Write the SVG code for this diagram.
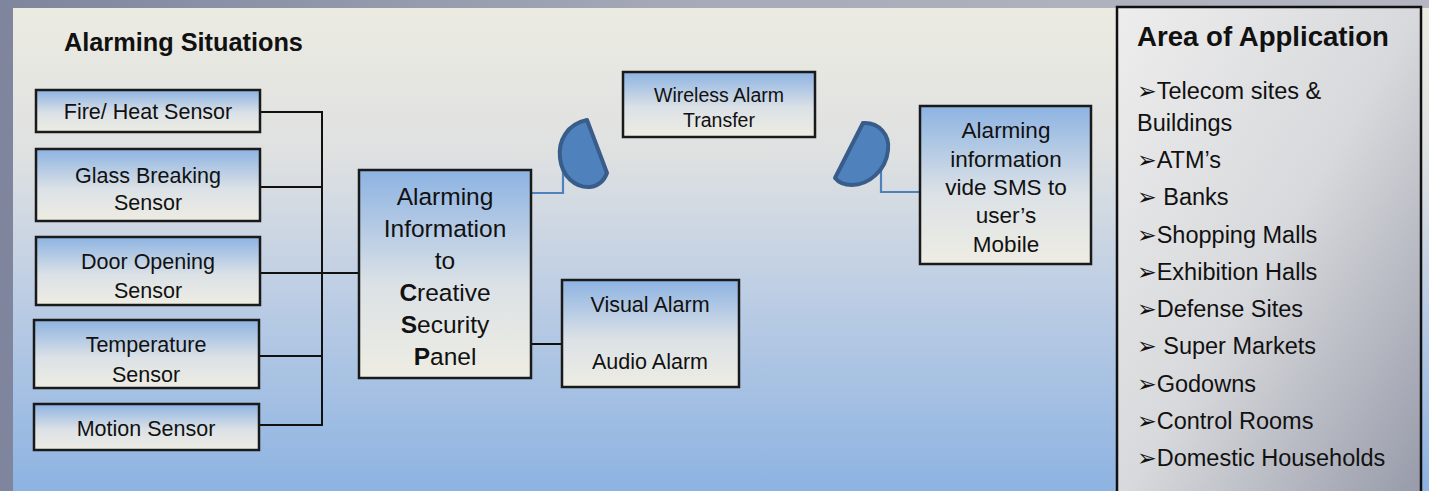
<svg xmlns="http://www.w3.org/2000/svg" width="1429" height="491" viewBox="0 0 1429 491">
<defs>
<linearGradient id="bgFrame" x1="0" y1="0" x2="1" y2="0">
<stop offset="0" stop-color="#7e859d"/>
<stop offset="0.5" stop-color="#a7abb9"/>
<stop offset="1" stop-color="#b4b7c2"/>
</linearGradient>
<linearGradient id="panelBg" x1="0" y1="0" x2="0" y2="1">
<stop offset="0" stop-color="#ecebe2"/>
<stop offset="0.3" stop-color="#dfe1e1"/>
<stop offset="0.6" stop-color="#bccde4"/>
<stop offset="1" stop-color="#8db3e2"/>
</linearGradient>
<linearGradient id="boxFill" x1="0" y1="0" x2="0" y2="1">
<stop offset="0" stop-color="#8db3e2"/>
<stop offset="0.55" stop-color="#dbe1e6"/>
<stop offset="1" stop-color="#eeede3"/>
</linearGradient>
<linearGradient id="appFill" x1="0" y1="0" x2="1" y2="1">
<stop offset="0" stop-color="#ededed"/>
<stop offset="0.5" stop-color="#d8d9dc"/>
<stop offset="1" stop-color="#9599a8"/>
</linearGradient>
<style>
.box{fill:url(#boxFill);stroke:#1a1a1a;stroke-width:2.5}
.t{font-family:"Liberation Sans",Arial,sans-serif;fill:#111;text-anchor:middle}
.s21{font-size:21.5px}
.wire{stroke:#111;stroke-width:2;fill:none}
.blue{stroke:#4f81bd;stroke-width:2.2;fill:none}
.dish{fill:#4f81bd;stroke:#385d8a;stroke-width:4;stroke-linejoin:round}
.h{font-family:"Liberation Sans",Arial,sans-serif;font-weight:bold;fill:#111}
.li{font-family:"Liberation Sans","DejaVu Sans",Arial,sans-serif;font-size:23.5px;fill:#111}
</style>
</defs>
<rect x="0" y="0" width="1429" height="491" fill="url(#bgFrame)"/>
<rect x="13" y="8" width="1416" height="483" fill="url(#panelBg)"/>
<text class="h" x="64" y="51" font-size="25.3">Alarming Situations</text>

<g id="connectors">
<path class="wire" d="M260,112 H322 M260,187 H322 M259,356 H322 M259,425 H322 M322,111 V426"/>
<path class="wire" stroke-width="3" d="M260,273 H360"/>
<path class="wire" d="M531,344 H562"/>
<path class="blue" d="M531,193 H563 V160"/>
<path class="blue" d="M881,158 V192 H920"/>
</g>

<g id="fire-sensor">
<rect class="box" x="36" y="90" width="224" height="42"/>
<text class="t s21" x="148" y="119">Fire/ Heat Sensor</text>
</g>
<g id="glass-sensor">
<rect class="box" x="36" y="149" width="224" height="72"/>
<text class="t s21" x="148" y="183">Glass Breaking</text>
<text class="t s21" x="148" y="210">Sensor</text>
</g>
<g id="door-sensor">
<rect class="box" x="36" y="237" width="224" height="68"/>
<text class="t s21" x="148" y="269">Door Opening</text>
<text class="t s21" x="148" y="298">Sensor</text>
</g>
<g id="temperature-sensor">
<rect class="box" x="34" y="320" width="225" height="68"/>
<text class="t s21" x="146" y="352">Temperature</text>
<text class="t s21" x="146" y="382">Sensor</text>
</g>
<g id="motion-sensor">
<rect class="box" x="34" y="404" width="225" height="46"/>
<text class="t s21" x="146" y="436">Motion Sensor</text>
</g>

<g id="security-panel">
<rect class="box" x="359" y="170" width="172" height="208"/>
<text class="t" font-size="24.5" x="445" y="205">Alarming</text>
<text class="t" font-size="24.5" x="445" y="237">Information</text>
<text class="t" font-size="24.5" x="445" y="269">to</text>
<text class="t" font-size="24.5" x="445" y="301"><tspan font-weight="bold">C</tspan>reative</text>
<text class="t" font-size="24.5" x="445" y="333"><tspan font-weight="bold">S</tspan>ecurity</text>
<text class="t" font-size="24.5" x="445" y="365"><tspan font-weight="bold">P</tspan>anel</text>
</g>

<g id="dish-left">
<path class="dish" d="M587,120 C567,124 558,141 560,158 C562,177 576,188 590,187 C598,186 604,181 607,173 Z"/>
</g>
<g id="dish-right">
<path class="dish" d="M863,123 C879,122 890,135 888,150 C886,171 868,185 852,185 C845,185 839,183 835,178 Z"/>
</g>

<g id="wireless-transfer">
<rect class="box" x="623" y="72" width="192" height="65"/>
<text class="t" font-size="19.5" x="719" y="102">Wireless Alarm</text>
<text class="t" font-size="19.5" x="719" y="127">Transfer</text>
</g>

<g id="visual-audio-alarm">
<rect class="box" x="562" y="280" width="177" height="107"/>
<text class="t" font-size="21.5" x="650" y="312">Visual Alarm</text>
<text class="t" font-size="21.5" x="650" y="369">Audio Alarm</text>
</g>

<g id="sms-mobile">
<rect class="box" x="920" y="106" width="171" height="158"/>
<text class="t" font-size="22.5" x="1006" y="138">Alarming</text>
<text class="t" font-size="22.5" x="1006" y="167">information</text>
<text class="t" font-size="22.5" x="1006" y="195">vide SMS to</text>
<text class="t" font-size="22.5" x="1006" y="223">user’s</text>
<text class="t" font-size="22.5" x="1006" y="252">Mobile</text>
</g>

<g id="area-of-application">
<rect x="1117" y="7" width="304" height="500" fill="url(#appFill)" stroke="#111" stroke-width="2.5"/>
<text class="h" x="1137" y="46" font-size="27.6">Area of Application</text>
<text class="li" x="1137" y="99">➢Telecom sites &amp;</text>
<text class="li" x="1137" y="131">Buildings</text>
<text class="li" x="1137" y="168">➢ATM’s</text>
<text class="li" x="1137" y="205">➢ Banks</text>
<text class="li" x="1137" y="243">➢Shopping Malls</text>
<text class="li" x="1137" y="280">➢Exhibition Halls</text>
<text class="li" x="1137" y="317">➢Defense Sites</text>
<text class="li" x="1137" y="354">➢ Super Markets</text>
<text class="li" x="1137" y="392">➢Godowns</text>
<text class="li" x="1137" y="429">➢Control Rooms</text>
<text class="li" x="1137" y="466">➢Domestic Households</text>
</g>
</svg>
